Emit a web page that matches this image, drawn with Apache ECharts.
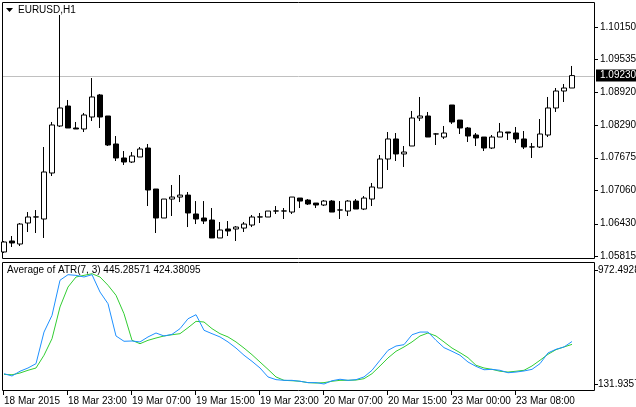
<!DOCTYPE html>
<html><head><meta charset="utf-8">
<script src="https://cdn.jsdelivr.net/npm/echarts@6/dist/echarts.min.js"></script>
<style>html,body{margin:0;padding:0;background:#fff}#c{width:636px;height:407px}</style>
</head><body><div id="c"></div>
<script>
const timeLabels = ['18 Mar 2015','18 Mar 23:00','19 Mar 07:00','19 Mar 15:00','19 Mar 23:00','20 Mar 07:00','20 Mar 15:00','23 Mar 00:00','23 Mar 08:00'];
const opens = [1.05891,1.06099,1.06042,1.06439,1.06553,1.06515,1.07386,1.08276,1.08654,1.08238,1.08219,1.08446,1.08863,1.08465,1.07935,1.0767,1.07594,1.07689,1.07859,1.07083,1.06534,1.06893,1.06931,1.06968,1.0661,1.06534,1.06496,1.06156,1.06326,1.06326,1.06344,1.06401,1.06553,1.06553,1.06666,1.06666,1.06647,1.06912,1.06874,1.06817,1.0678,1.06855,1.06685,1.06666,1.06855,1.06704,1.06893,1.07102,1.07651,1.0803,1.07746,1.07897,1.08427,1.08465,1.08124,1.08067,1.08673,1.08389,1.08238,1.08105,1.08067,1.07859,1.08067,1.08162,1.08143,1.0803,1.07878,1.07878,1.08105,1.08617,1.08938,1.08995];
const closes = [1.0608,1.06061,1.0642,1.06553,1.06555,1.07405,1.08295,1.08617,1.08238,1.08219,1.08484,1.08825,1.08446,1.07916,1.0767,1.07594,1.07708,1.0784,1.07064,1.06534,1.06893,1.06931,1.06968,1.06629,1.06515,1.06477,1.06156,1.06307,1.06288,1.06363,1.0642,1.06553,1.06555,1.06666,1.06668,1.06668,1.06931,1.06855,1.06799,1.0678,1.06855,1.06647,1.06687,1.06855,1.06704,1.06912,1.07121,1.07651,1.0803,1.07746,1.07783,1.08427,1.08465,1.08067,1.08126,1.08143,1.08352,1.08238,1.08086,1.08049,1.07859,1.08067,1.08162,1.08143,1.0803,1.07878,1.0788,1.08124,1.08617,1.08938,1.08995,1.0923];
const highs = [1.06099,1.06193,1.06439,1.06647,1.06685,1.07878,1.08352,1.10377,1.08768,1.08352,1.08522,1.09184,1.08882,1.08465,1.08086,1.07802,1.07783,1.07878,1.07935,1.07083,1.06893,1.07159,1.07348,1.07026,1.06855,1.06855,1.06723,1.06458,1.06477,1.06382,1.06458,1.06591,1.06629,1.06666,1.06761,1.06723,1.06931,1.06912,1.06893,1.06817,1.06874,1.06874,1.06855,1.06874,1.06893,1.0695,1.07197,1.07727,1.08162,1.08143,1.07897,1.0856,1.08825,1.08541,1.08143,1.08276,1.08673,1.08389,1.08257,1.08143,1.08067,1.08105,1.08333,1.08162,1.08257,1.08181,1.07954,1.08408,1.08825,1.08995,1.09071,1.09412];
const lows = [1.05872,1.05985,1.06004,1.06269,1.0625,1.06156,1.07329,1.08257,1.08238,1.08219,1.08162,1.0837,1.08238,1.07897,1.07613,1.07538,1.07575,1.07689,1.06761,1.0625,1.06534,1.06572,1.06836,1.06363,1.0642,1.0642,1.06156,1.06156,1.06193,1.06099,1.06269,1.06363,1.06439,1.06553,1.0661,1.06515,1.0661,1.06723,1.0678,1.06723,1.06761,1.06647,1.06515,1.06572,1.06704,1.06685,1.06761,1.07102,1.07443,1.07613,1.075,1.07897,1.0837,1.08067,1.07916,1.0803,1.08314,1.08124,1.07973,1.07897,1.07802,1.0784,1.08067,1.08011,1.07954,1.0784,1.0767,1.07859,1.08067,1.08541,1.0873,1.08995];
const atrBlue = [208,191,226,250,282,515,638,897,938,933,921,938,810,724,486,447,449,442,479,508,486,498,540,613,643,528,503,479,442,397,344,299,250,184,164,159,159,152,142,142,132,156,167,159,164,184,233,307,380,412,422,495,515,515,454,400,373,344,294,262,237,240,233,215,220,228,240,282,361,388,405,445];
const atrGreen = [203,200,213,233,250,344,466,700,847,921,933,945,921,860,786,650,454,429,454,471,486,495,503,547,594,589,540,503,479,442,397,348,294,240,184,159,156,152,142,139,142,152,159,159,161,171,208,265,324,373,405,442,486,508,486,442,397,363,326,270,250,240,226,220,226,233,265,307,351,385,405,424];
const priceTicks = [1.10150,1.09535,1.08920,1.08290,1.07675,1.07060,1.06430,1.05815];
const atrTicks = [972.4928,131.9357];
const lastPrice = 1.09230;

const N = 74;
const cats = []; for (let i=0;i<N;i++) cats.push(i);
const candles = opens.map((o,i)=>[o,closes[i],lows[i],highs[i]]);
const FONT = 'Liberation Sans';
const chart = echarts.init(document.getElementById('c'), null, {renderer:'canvas'});
const xa = (gi) => ({type:'category', gridIndex:gi, data:cats, boundaryGap:true,
  axisLine:{show:false}, axisTick:{show:false}, splitLine:{show:false}, axisLabel:{show:false}});
chart.setOption({
  animation:false,
  grid:[{left:0, top:2, width:592, height:256},{left:0, top:262, width:592, height:128}],
  xAxis:[xa(0), xa(1)],
  yAxis:[
    {type:'value', gridIndex:0, min:1.05777, max:1.10623, show:false},
    {type:'value', gridIndex:1, min:87.7, max:1031.5, show:false}
  ],
  series:[
    {type:'candlestick', xAxisIndex:0, yAxisIndex:0, data:candles, barWidth:5, z:3,
     itemStyle:{color:'#fff', color0:'#000', borderColor:'#000', borderColor0:'#000', borderWidth:1}},
    {type:'line', xAxisIndex:1, yAxisIndex:1, data:atrBlue, showSymbol:false, lineStyle:{color:'#1e90ff', width:1}, z:3},
    {type:'line', xAxisIndex:1, yAxisIndex:1, data:atrGreen, showSymbol:false, lineStyle:{color:'#32cd32', width:1}, z:2}
  ]
});
const g = [];
const ts = {fontFamily:FONT, fontSize:10, fill:'#000'};
g.push({type:'rect', shape:{x:2.5,y:2.5,width:592,height:256}, style:{fill:'none', stroke:'#000', lineWidth:1}, silent:true});
g.push({type:'rect', shape:{x:2.5,y:262.5,width:592,height:128}, style:{fill:'none', stroke:'#000', lineWidth:1}, silent:true});
g.push({type:'polygon', shape:{points:[[6,8],[13,8],[9.5,12]]}, style:{fill:'#000'}});
g.push({type:'text', x:18, y:5, style:Object.assign({text:'EURUSD,H1'}, ts)});
g.push({type:'text', x:7, y:265, style:Object.assign({text:'Average of ATR(7, 3) 445.28571 424.38095'}, ts)});
{
  const y = Math.round(chart.convertToPixel({yAxisIndex:0}, lastPrice)) + 0.5;
  g.push({type:'line', shape:{x1:3,y1:y,x2:594,y2:y}, style:{stroke:'#c0c0c0', lineWidth:1}, z:-1});
}
priceTicks.forEach(p=>{
  const y = chart.convertToPixel({yAxisIndex:0}, p);
  g.push({type:'line', shape:{x1:595,y1:Math.round(y)+0.5,x2:598,y2:Math.round(y)+0.5}, style:{stroke:'#000'}});
  g.push({type:'text', x:600, y:y-5, style:Object.assign({text:p.toFixed(5)}, ts)});
});
{
  const y = chart.convertToPixel({yAxisIndex:0}, lastPrice);
  g.push({type:'rect', shape:{x:596,y:y-6,width:40,height:12}, style:{fill:'#000'}});
  g.push({type:'text', x:600, y:y-5, style:Object.assign({}, ts, {text:lastPrice.toFixed(5), fill:'#fff'})});
}
atrTicks.forEach(v=>{
  const y = chart.convertToPixel({yAxisIndex:1}, v);
  g.push({type:'line', shape:{x1:595,y1:Math.round(y)+0.5,x2:598,y2:Math.round(y)+0.5}, style:{stroke:'#000'}});
  g.push({type:'text', x:598, y:y-5, style:Object.assign({text:String(v)}, ts)});
});
timeLabels.forEach((t,k)=>{
  const x = chart.convertToPixel({xAxisIndex:1}, k*8) - 1;
  g.push({type:'line', shape:{x1:Math.round(x)+0.5,y1:391,x2:Math.round(x)+0.5,y2:395}, style:{stroke:'#000'}});
  g.push({type:'text', x:x+1, y:396, style:Object.assign({text:t}, ts)});
});
chart.setOption({graphic:g});
</script></body></html>
